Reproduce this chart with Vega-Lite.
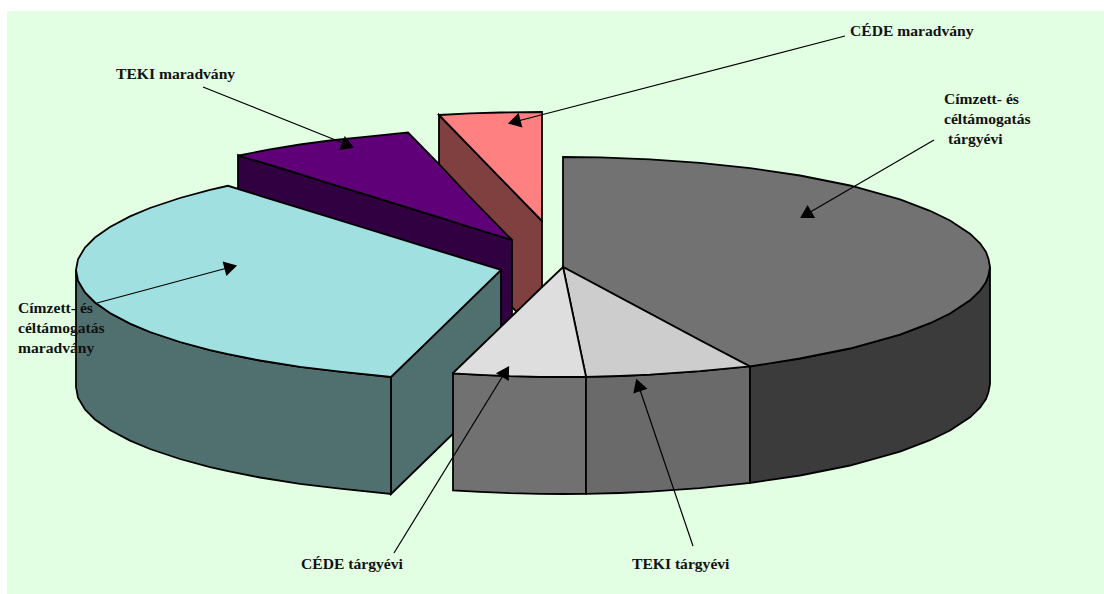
{"$schema":"https://vega.github.io/schema/vega-lite/v6.json","width":1097,"height":583,"autosize":{"type":"none"},"padding":{"left":7,"top":11,"right":0,"bottom":0},"background":"#ffffff","config":{"view":{"fill":"#e3ffe3","stroke":null}},"datasets":{"slices":[
{"part":"cm_wall","x":439,"y":115,"y2":232},{"part":"cm_wall","x":542,"y":221,"y2":338},
{"part":"cm_top","x":439,"y":115,"y2":115},{"part":"cm_top","x":470,"y":113.4,"y2":146.9},{"part":"cm_top","x":500,"y":112.5,"y2":177.8},{"part":"cm_top","x":542,"y":112,"y2":221},
{"part":"tm_wall","x":238,"y":155,"y2":272},{"part":"tm_wall","x":512,"y":240,"y2":357},
{"part":"tm_top","x":238,"y":155.6,"y2":155.6},{"part":"tm_top","x":270,"y":149.4,"y2":164.9},{"part":"tm_top","x":300,"y":144.5,"y2":174.2},{"part":"tm_top","x":330,"y":140.5,"y2":183.5},{"part":"tm_top","x":370,"y":136.3,"y2":195.9},{"part":"tm_top","x":408,"y":132.5,"y2":207.7},{"part":"tm_top","x":440,"y":165.2,"y2":217.6},{"part":"tm_top","x":470,"y":197,"y2":227},{"part":"tm_top","x":512,"y":240,"y2":240},
{"part":"ci_cut","x":391,"y":377,"y2":494},{"part":"ci_cut","x":501,"y":270,"y2":387},
{"part":"ci_wall","x":76,"y":270,"y2":387},{"part":"ci_wall","x":78,"y":280.7,"y2":397.7},{"part":"ci_wall","x":85,"y":292.5,"y2":409.5},{"part":"ci_wall","x":95,"y":302.5,"y2":419.5},{"part":"ci_wall","x":110,"y":313.1,"y2":430.1},{"part":"ci_wall","x":130,"y":323.6,"y2":440.6},{"part":"ci_wall","x":150,"y":332,"y2":449},{"part":"ci_wall","x":180,"y":342,"y2":459},{"part":"ci_wall","x":210,"y":350.1,"y2":467.1},{"part":"ci_wall","x":228,"y":354.2,"y2":471.2},{"part":"ci_wall","x":260,"y":360.5,"y2":477.5},{"part":"ci_wall","x":300,"y":366.8,"y2":483.8},{"part":"ci_wall","x":340,"y":371.7,"y2":488.7},{"part":"ci_wall","x":391,"y":377,"y2":494},
{"part":"ci_top","x":76,"y":270,"y2":270},{"part":"ci_top","x":78,"y":259.3,"y2":280.7},{"part":"ci_top","x":85,"y":247.5,"y2":292.5},{"part":"ci_top","x":95,"y":237.5,"y2":302.5},{"part":"ci_top","x":110,"y":226.9,"y2":313.1},{"part":"ci_top","x":130,"y":216.4,"y2":323.6},{"part":"ci_top","x":150,"y":208,"y2":332},{"part":"ci_top","x":180,"y":198,"y2":342},{"part":"ci_top","x":210,"y":189.9,"y2":350.1},{"part":"ci_top","x":228,"y":185.8,"y2":354.2},{"part":"ci_top","x":260,"y":195.8,"y2":360.5},{"part":"ci_top","x":300,"y":208.2,"y2":366.8},{"part":"ci_top","x":340,"y":220.5,"y2":371.7},{"part":"ci_top","x":391,"y":236.2,"y2":377},{"part":"ci_top","x":420,"y":245.1,"y2":348.8},{"part":"ci_top","x":460,"y":257.4,"y2":309.9},{"part":"ci_top","x":501,"y":270,"y2":270},
{"part":"ct_wall","x":453,"y":373.3,"y2":490.3},{"part":"ct_wall","x":480,"y":374.9,"y2":491.9},{"part":"ct_wall","x":510,"y":376.2,"y2":493.2},{"part":"ct_wall","x":540,"y":376.8,"y2":493.8},{"part":"ct_wall","x":563,"y":377,"y2":494},{"part":"ct_wall","x":586,"y":376.8,"y2":493.8},
{"part":"tt_wall","x":586,"y":376.8,"y2":493.8},{"part":"tt_wall","x":620,"y":376,"y2":493},{"part":"tt_wall","x":650,"y":374.7,"y2":491.7},{"part":"tt_wall","x":700,"y":371.2,"y2":488.2},{"part":"tt_wall","x":750,"y":366,"y2":483},
{"part":"gy_wall","x":750,"y":366,"y2":483},{"part":"gy_wall","x":800,"y":358.5,"y2":475.5},{"part":"gy_wall","x":850,"y":348.5,"y2":465.5},{"part":"gy_wall","x":900,"y":334.6,"y2":451.6},{"part":"gy_wall","x":930,"y":323.2,"y2":440.2},{"part":"gy_wall","x":950,"y":313.5,"y2":430.5},{"part":"gy_wall","x":970,"y":300.3,"y2":417.3},{"part":"gy_wall","x":980,"y":290.7,"y2":407.7},{"part":"gy_wall","x":986,"y":282,"y2":399},{"part":"gy_wall","x":988.5,"y":275,"y2":392},{"part":"gy_wall","x":990,"y":267,"y2":384},
{"part":"gy_top","x":563,"y":157,"y2":267},{"part":"gy_top","x":600,"y":157.4,"y2":286.8},{"part":"gy_top","x":650,"y":159.3,"y2":313.5},{"part":"gy_top","x":700,"y":162.8,"y2":340.3},{"part":"gy_top","x":750,"y":168.1,"y2":366.5},{"part":"gy_top","x":800,"y":175.5,"y2":358.5},{"part":"gy_top","x":850,"y":185.5,"y2":348.5},{"part":"gy_top","x":900,"y":199.4,"y2":334.6},{"part":"gy_top","x":930,"y":210.8,"y2":323.2},{"part":"gy_top","x":950,"y":220.5,"y2":313.5},{"part":"gy_top","x":970,"y":233.7,"y2":300.3},{"part":"gy_top","x":980,"y":243.3,"y2":290.7},{"part":"gy_top","x":986,"y":252,"y2":282},{"part":"gy_top","x":988.5,"y":259,"y2":275},{"part":"gy_top","x":990,"y":267,"y2":267},
{"part":"tt_top","x":563,"y":267,"y2":267},{"part":"tt_top","x":586,"y":279.3,"y2":376.8},{"part":"tt_top","x":620,"y":297.5,"y2":376},{"part":"tt_top","x":650,"y":313.5,"y2":374.7},{"part":"tt_top","x":700,"y":340.3,"y2":371.2},{"part":"tt_top","x":750,"y":366.5,"y2":366.5},
{"part":"ct_top","x":453,"y":373,"y2":373.3},{"part":"ct_top","x":480,"y":347,"y2":374.9},{"part":"ct_top","x":510,"y":318,"y2":376.2},{"part":"ct_top","x":540,"y":289,"y2":376.8},{"part":"ct_top","x":563,"y":267,"y2":377},{"part":"ct_top","x":570,"y":300.5,"y2":377},{"part":"ct_top","x":586,"y":376.8,"y2":376.8}
],"arrows":[
{"x":203,"y":87,"x2":348,"y2":145,"hx":346,"hy":144.6,"rot":112},
{"x":845,"y":36,"x2":514,"y2":122,"hx":516.3,"hy":121.4,"rot":255.4},
{"x":934,"y":140,"x2":806,"y2":214.5,"hx":807.6,"hy":213.7,"rot":239.6},
{"x":97,"y":303,"x2":231,"y2":267,"hx":228.7,"hy":267.7,"rot":75.3},
{"x":394,"y":553,"x2":504,"y2":374,"hx":504.6,"hy":373.5,"rot":31.6},
{"x":693,"y":546,"x2":639,"y2":387,"hx":639,"hy":387,"rot":341.4}
],"labels":[
{"x":850,"y":31,"text":"CÉDE maradvány"},
{"x":944,"y":99,"text":"Címzett- és"},{"x":944,"y":119,"text":"céltámogatás"},{"x":948,"y":139,"text":"tárgyévi"},
{"x":116,"y":74,"text":"TEKI maradvány"},
{"x":18,"y":308,"text":"Címzett- és"},{"x":18,"y":328,"text":"céltámogatás"},{"x":18,"y":348,"text":"maradvány"},
{"x":301,"y":564,"text":"CÉDE tárgyévi"},
{"x":632,"y":564,"text":"TEKI tárgyévi"}
]},
"layer":[
{"data":{"name":"slices"},"mark":{"type":"area","stroke":"#000000","strokeWidth":1.8,"strokeJoin":"miter","opacity":1},
"encoding":{"x":{"field":"x","type":"quantitative","scale":{"domain":[7,1104],"nice":false,"zero":false},"axis":null},"y":{"field":"y","type":"quantitative","scale":{"domain":[594,11],"nice":false,"zero":false},"axis":null},"y2":{"field":"y2"},
"fill":{"field":"part","type":"nominal","legend":null,"scale":{"domain":["cm_wall","cm_top","tm_wall","tm_top","ci_cut","ci_wall","ci_top","ct_wall","tt_wall","gy_wall","gy_top","tt_top","ct_top"],"range":["#804040","#ff8080","#300040","#5f0078","#507070","#507070","#a0e0e0","#717171","#6a6a6a","#3b3b3b","#727272","#cdcdcd","#dedede"]}}}},
{"data":{"name":"arrows"},"mark":{"type":"rule","stroke":"#000000","strokeWidth":1.2},"encoding":{"x":{"field":"x","type":"quantitative"},"y":{"field":"y","type":"quantitative"},"x2":{"field":"x2"},"y2":{"field":"y2"}}},
{"data":{"name":"arrows"},"mark":{"type":"point","shape":"triangle","filled":true,"fill":"#000000","stroke":null,"opacity":1,"size":225},"encoding":{"x":{"field":"hx","type":"quantitative"},"y":{"field":"hy","type":"quantitative"},"angle":{"field":"rot","type":"quantitative","scale":null}}},
{"data":{"name":"labels"},"mark":{"type":"text","align":"left","baseline":"middle","font":"Liberation Serif","fontWeight":"bold","fontSize":15.6,"fill":"#111111"},"encoding":{"x":{"field":"x","type":"quantitative"},"y":{"field":"y","type":"quantitative"},"text":{"field":"text"}}}
]}
